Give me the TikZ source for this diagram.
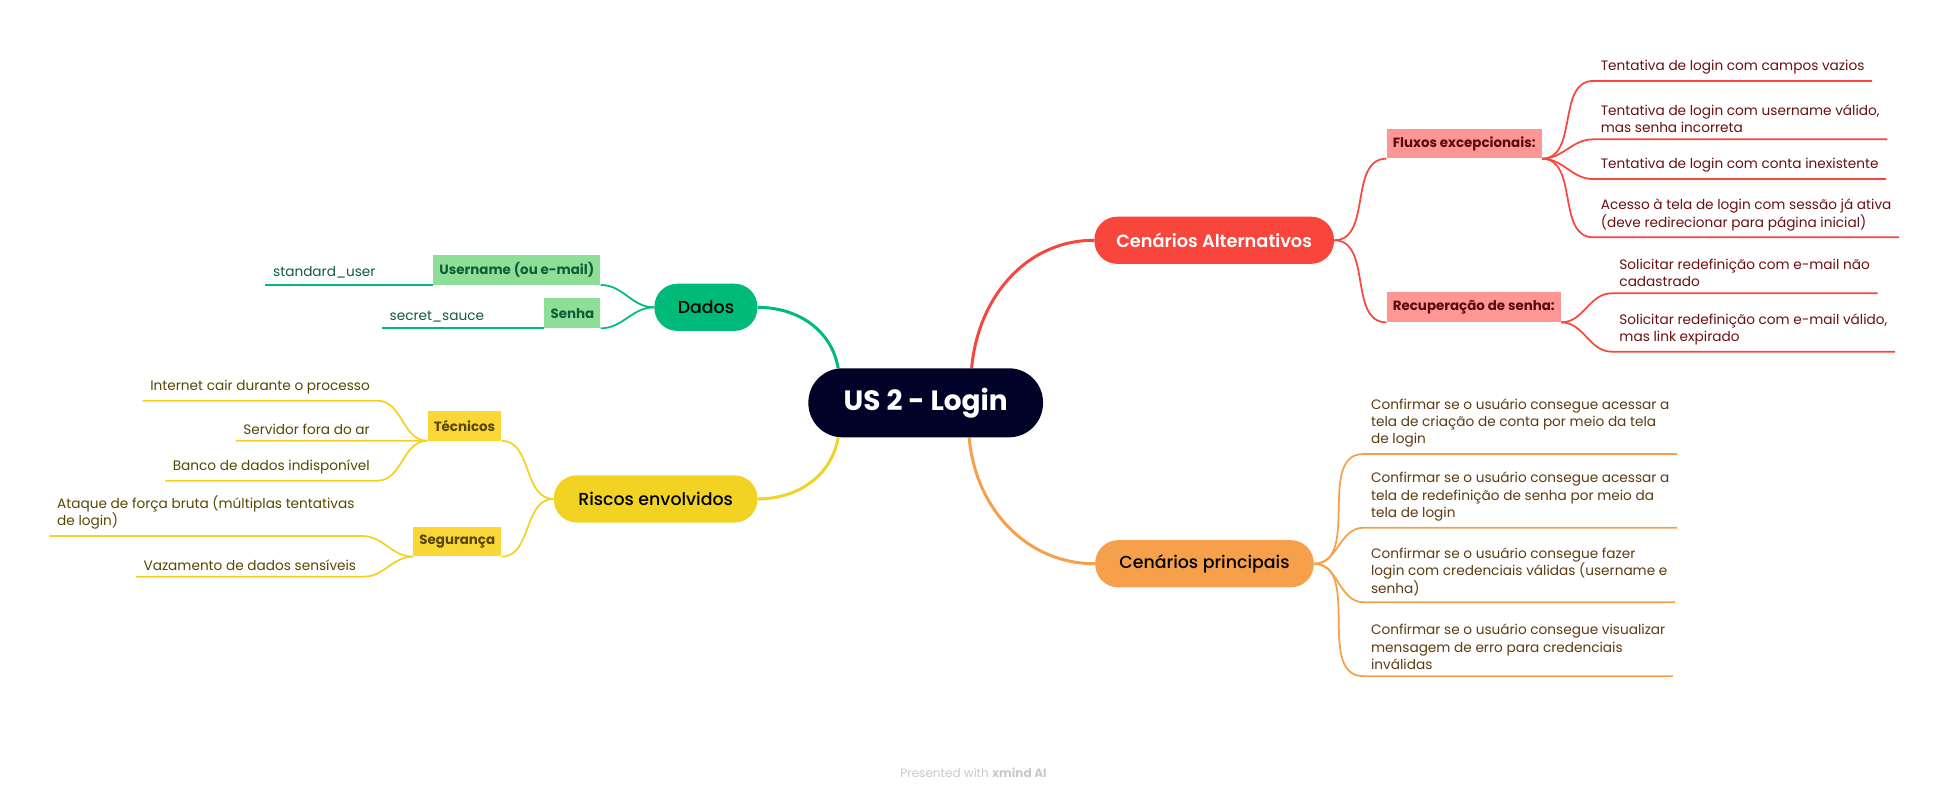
\documentclass[tikz,border=0pt]{standalone}
\usepackage{fontspec}
\setmainfont{Poppins}
\newfontfamily\poppinsmed{Poppins Medium}
\newfontfamily\poppinssemi{Poppins SemiBold}
\usepackage{xcolor}
\usetikzlibrary{positioning,backgrounds}

\definecolor{rootblue}{HTML}{010228}
\definecolor{altred}{HTML}{F8463D}
\definecolor{altsub}{HTML}{FF9696}
\definecolor{alttext}{HTML}{6A0F0F}
\definecolor{altsubtext}{HTML}{5A0A0A}
\definecolor{dadosgreen}{HTML}{00BA7A}
\definecolor{dadossub}{HTML}{8FDE98}
\definecolor{dadostext}{HTML}{0D5C3A}
\definecolor{riscoyellow}{HTML}{F2D324}
\definecolor{riscosub}{HTML}{F9D737}
\definecolor{riscotext}{HTML}{574600}
\definecolor{princorange}{HTML}{F7A04B}
\definecolor{princtext}{HTML}{5E3A10}
\definecolor{footgray}{HTML}{C9C9C9}

\begin{document}
\begin{tikzpicture}[x=1pt, y=1pt,
  topic/.style={rectangle, rounded corners=18.5pt, minimum height=38pt, inner sep=0pt, font=\poppinsmed\fontsize{14}{16}\selectfont},
  subtopic/.style={rectangle, minimum height=24pt, inner xsep=5pt, inner ysep=0pt, font=\bfseries\fontsize{10.8}{12}\selectfont},
  leaf/.style={inner xsep=6pt, inner ysep=5pt, align=left, font=\fontsize{11}{14}\selectfont},
  branch/.style={line width=2.4pt},
  twig/.style={line width=1.4pt}
]
\useasboundingbox (0,0) rectangle (1568,-643);

% Central topic
\node[rectangle, rounded corners=27.5pt, fill=rootblue, text=white, minimum width=189pt, minimum height=55.6pt, font=\bfseries\fontsize{22.5}{26}\selectfont] (root) at (745.5,-324.4) {US 2 - Login};

% Main topics
\node[topic, fill=altred, text=white, minimum width=193pt, font=\poppinssemi\fontsize{14.3}{16}\selectfont] (alt) at (977.8,-193.5) {Cenários Alternativos};
\node[topic, fill=princorange, minimum width=176pt] (princ) at (970,-454) {Cenários principais};
\node[topic, fill=dadosgreen, minimum width=83pt] (dados) at (568.5,-247.5) {Dados};
\node[topic, fill=riscoyellow, minimum width=164pt] (riscos) at (528,-401.8) {Riscos envolvidos};

% Cenarios Alternativos
\node[subtopic, fill=altsub, text=altsubtext, anchor=south west] (fluxos) at (1116.5,-127.8) {Fluxos excepcionais:};
\node[subtopic, fill=altsub, text=altsubtext, anchor=south west] (recup) at (1116.5,-259.6) {Recuperação de senha:};
\node[leaf, text=alttext, anchor=south west] (f1) at (1283,-65.2) {Tentativa de login com campos vazios};
\node[leaf, text=alttext, anchor=south west] (f2) at (1283,-112.2) {Tentativa de login com username válido,\\mas senha incorreta};
\node[leaf, text=alttext, anchor=south west] (f3) at (1283,-144.2) {Tentativa de login com conta inexistente};
\node[leaf, text=alttext, anchor=south west] (f4) at (1283,-191.1) {Acesso à tela de login com sessão já ativa\\(deve redirecionar para página inicial)};
\node[leaf, text=alttext, anchor=south west] (r1) at (1298,-236.2) {Solicitar redefinição com e-mail não\\cadastrado};
\node[leaf, text=alttext, anchor=south west] (r2) at (1298,-283.2) {Solicitar redefinição com e-mail válido,\\mas link expirado};

% Cenarios principais
\node[leaf, text=princtext, anchor=south west] (p1) at (1098,-365.6) {Confirmar se o usuário consegue acessar a\\tela de criação de conta por meio da tela\\de login};
\node[leaf, text=princtext, anchor=south west] (p2) at (1098,-425) {Confirmar se o usuário consegue acessar a\\tela de redefinição de senha por meio da\\tela de login};
\node[leaf, text=princtext, anchor=south west] (p3) at (1098,-485) {Confirmar se o usuário consegue fazer\\login com credenciais válidas (username e\\senha)};
\node[leaf, text=princtext, anchor=south west] (p4) at (1098,-544.5) {Confirmar se o usuário consegue visualizar\\mensagem de erro para credenciais\\inválidas};

% Dados
\node[subtopic, fill=dadossub, text=dadostext, anchor=south east] (user) at (483.8,-229.5) {Username (ou e-mail)};
\node[subtopic, fill=dadossub, text=dadostext, anchor=south east] (senha) at (483.8,-264.4) {Senha};
\node[leaf, text=dadostext, anchor=south east] (uval) at (308.6,-229.5) {standard\_user};
\node[leaf, text=dadostext, anchor=south east] (sval) at (396,-264.4) {secret\_sauce};

% Riscos envolvidos
\node[subtopic, fill=riscosub, text=riscotext, anchor=south east] (tec) at (404,-355) {Técnicos};
\node[subtopic, fill=riscosub, text=riscotext, anchor=south east] (seg) at (404,-448.3) {Segurança};
\node[leaf, text=riscotext, anchor=south east] (t1) at (304,-322.7) {Internet cair durante o processo};
\node[leaf, text=riscotext, anchor=south east] (t2) at (304,-354.9) {Servidor fora do ar};
\node[leaf, text=riscotext, anchor=south east] (t3) at (304,-387.1) {Banco de dados indisponível};
\node[leaf, text=riscotext, anchor=south east] (s1) at (291.7,-431.7) {Ataque de força bruta (múltiplas tentativas\\de login)};
\node[leaf, text=riscotext, anchor=south east] (s2) at (293,-464.4) {Vazamento de dados sensíveis};

% Footer
\node[text=footgray, font=\fontsize{9.7}{11}\selectfont] (footer) at (784,-622) {Presented with \textbf{xmind AI}};

% Connectors
\begin{scope}[on background layer]
\draw[branch, altred] ([xshift=37pt]root.north) to[out=85,in=180] (alt.west);
\draw[branch, princorange] ([xshift=35pt]root.south) to[out=-85,in=180] (princ.west);
\draw[branch, dadosgreen] ([xshift=-70.5pt]root.north) to[out=100,in=0] (dados.east);
\draw[branch, riscoyellow] ([xshift=-70.5pt]root.south) to[out=-100,in=0] (riscos.east);

\draw[twig, altred] (alt.east) to[out=0,in=180] (fluxos.south west);
\draw[twig, altred] (alt.east) to[out=0,in=180] (recup.south west);
\draw[twig, altred] (fluxos.south east) to[out=0,in=180] (f1.south west) -- (f1.south east);
\draw[twig, altred] (fluxos.south east) to[out=0,in=180] (f2.south west) -- (f2.south east);
\draw[twig, altred] (fluxos.south east) to[out=0,in=180] (f3.south west) -- (f3.south east);
\draw[twig, altred] (fluxos.south east) to[out=0,in=180] (f4.south west) -- (f4.south east);
\draw[twig, altred] (recup.south east) to[out=0,in=180] (r1.south west) -- (r1.south east);
\draw[twig, altred] (recup.south east) to[out=0,in=180] (r2.south west) -- (r2.south east);

\draw[twig, princorange] (princ.east) to[out=0,in=180] (p1.south west) -- (p1.south east);
\draw[twig, princorange] (princ.east) to[out=0,in=180] (p2.south west) -- (p2.south east);
\draw[twig, princorange] (princ.east) to[out=0,in=180] (p3.south west) -- (p3.south east);
\draw[twig, princorange] (princ.east) to[out=0,in=180] (p4.south west) -- (p4.south east);

\draw[twig, dadosgreen] (dados.west) to[out=180,in=0] (user.south east);
\draw[twig, dadosgreen] (dados.west) to[out=180,in=0] (senha.south east);
\draw[twig, dadosgreen] (user.south west) -- (uval.south east) -- (uval.south west);
\draw[twig, dadosgreen] (senha.south west) -- (sval.south east) -- (sval.south west);

\draw[twig, riscoyellow] (riscos.west) to[out=180,in=0] (tec.south east);
\draw[twig, riscoyellow] (riscos.west) to[out=180,in=0] (seg.south east);
\draw[twig, riscoyellow] (tec.south west) to[out=180,in=0] (t1.south east) -- (t1.south west);
\draw[twig, riscoyellow] (tec.south west) -- (t2.south east) -- (t2.south west);
\draw[twig, riscoyellow] (tec.south west) to[out=180,in=0] (t3.south east) -- (t3.south west);
\draw[twig, riscoyellow] (seg.south west) to[out=180,in=0] (s1.south east) -- (s1.south west);
\draw[twig, riscoyellow] (seg.south west) to[out=180,in=0] (s2.south east) -- (s2.south west);
\end{scope}
\end{tikzpicture}
\end{document}
